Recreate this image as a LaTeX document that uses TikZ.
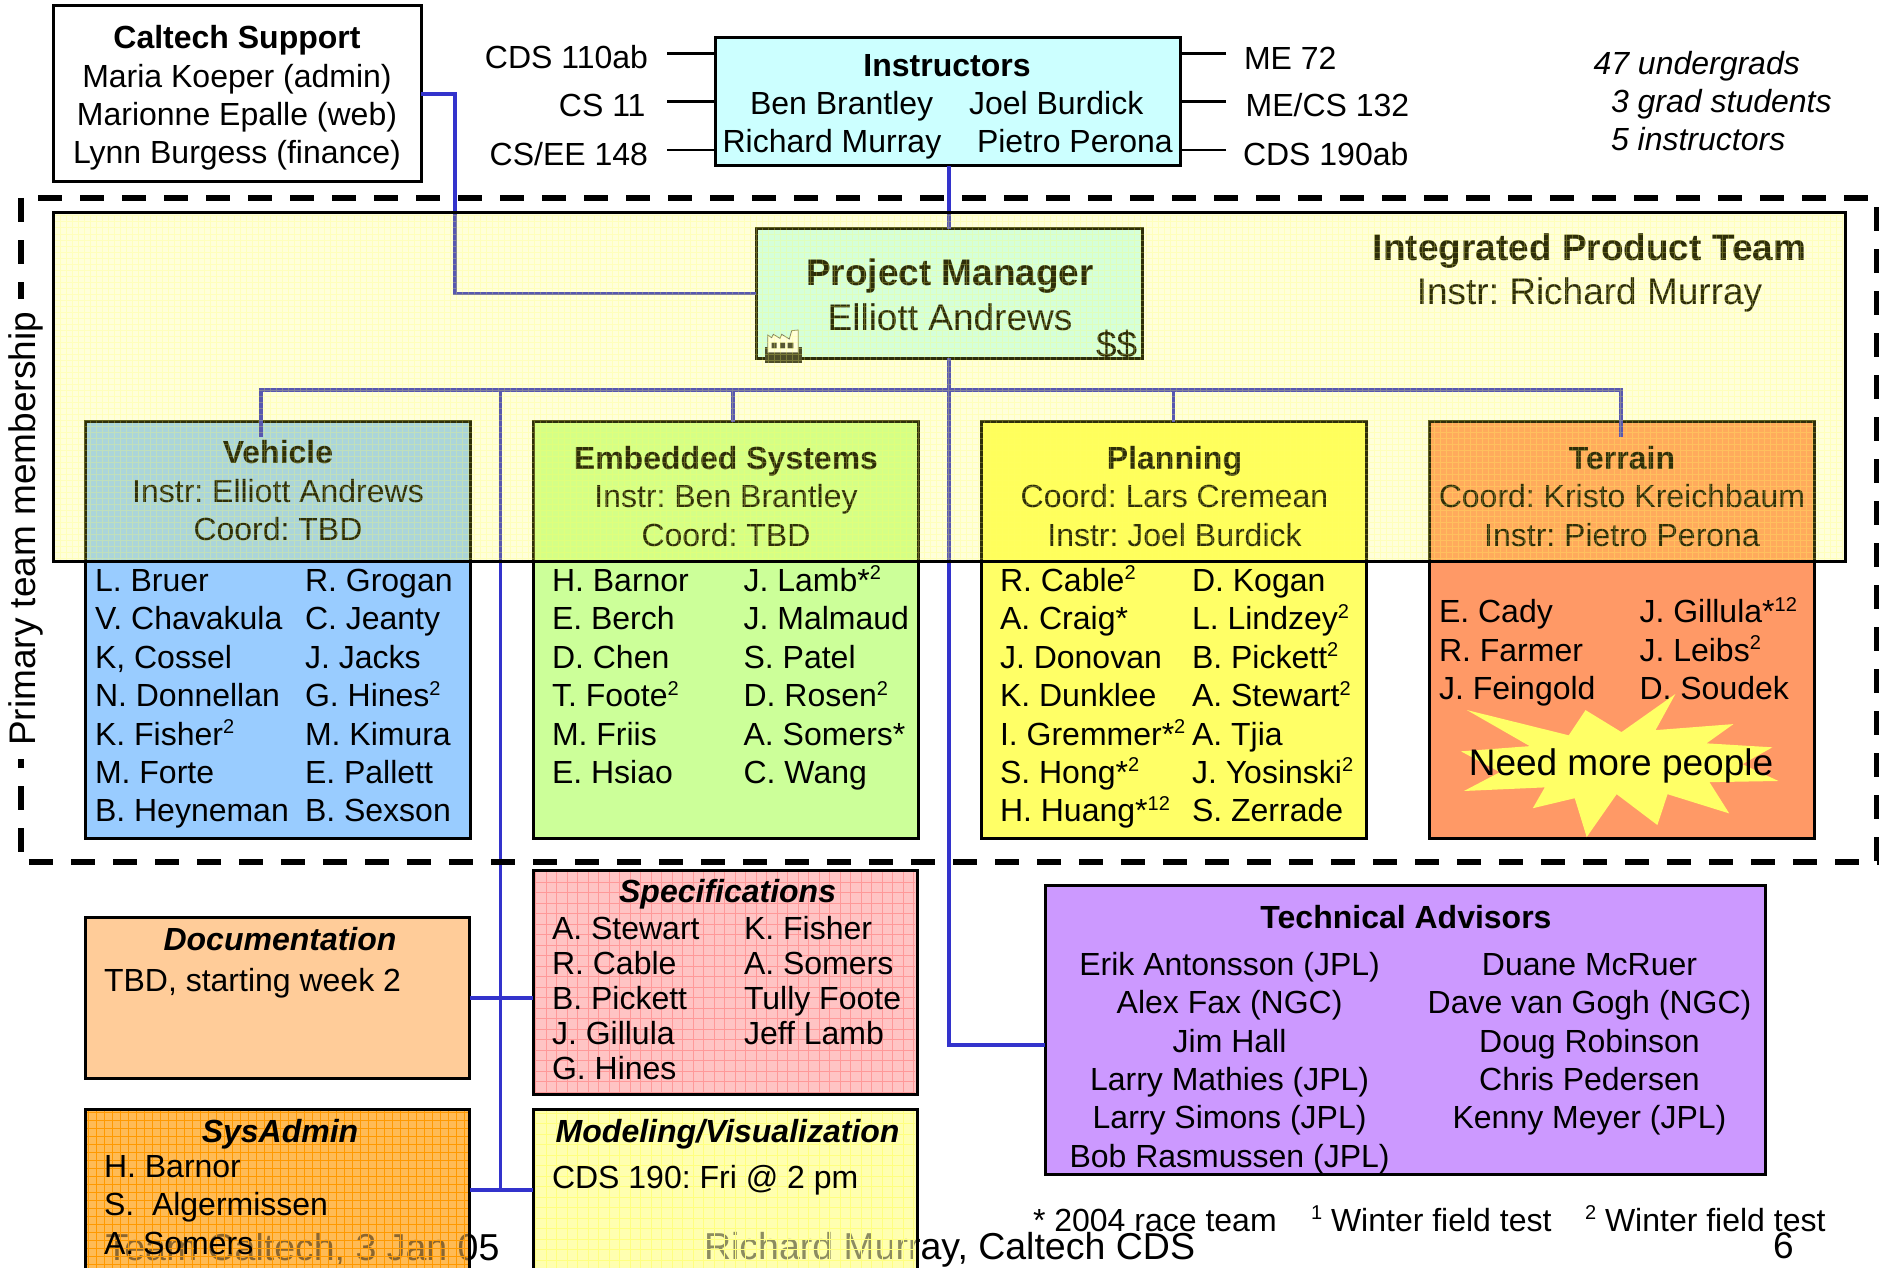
\documentclass[tikz,border=0pt]{standalone}
\usepackage{fontspec}
\setmainfont{Liberation Sans}
\AtBeginDocument{\frenchspacing}
\definecolor{linkblue}{HTML}{3333CC}
\definecolor{vehc}{HTML}{99CCFF}
\definecolor{embc}{HTML}{CCFF99}
\definecolor{plac}{HTML}{FFFF66}
\definecolor{veilc}{HTML}{FFFF33}
\definecolor{terc}{HTML}{FF9966}
\definecolor{docc}{HTML}{FFCC99}
\definecolor{cyanc}{HTML}{CCFFFF}
\definecolor{purc}{HTML}{CC99FF}
\definecolor{pinkc}{HTML}{FFC4C4}
\definecolor{pinkl}{HTML}{FF9999}
\definecolor{sysc}{HTML}{FFBB55}
\definecolor{sysl}{HTML}{FF9900}
\definecolor{modc}{HTML}{FFFFB0}
\definecolor{modl}{HTML}{FFFF80}
\newcommand\fs{\rule{0pt}{26pt}}
\newcommand\su[1]{\raisebox{.36em}{\fontsize{20}{20}\selectfont #1}}
\newcommand\bx[6]{%
  \pgfmathsetmacro\bw{#4-#2}\pgfmathsetmacro\bh{#5-#3}%
  \node[boxst,#6,minimum width=\bw pt,minimum height=\bh pt,anchor=north west] (#1) at (#2,#3) {};}
\newcommand\tx[5]{\node[txst,#4] (#1) at (#2,#3-25.2) {\fs #5};}
\tikzset{
  boxst/.style={draw=black,line width=3pt,inner sep=0pt,outer sep=0pt,rectangle},
  txst/.style={inner sep=0pt,outer sep=0pt,align=left,anchor=north west,font=\fontsize{32}{38.4}\selectfont},
  cn/.style={align=center,anchor=north,xshift=1pt},
  rt/.style={align=right,anchor=north east,xshift=1pt},
  big/.style={font=\fontsize{37}{44}\selectfont},
  foot/.style={font=\fontsize{37.5}{44}\selectfont},
  spec/.style={font=\fontsize{32}{34.8}\selectfont},
  link/.style={draw=linkblue,line width=3.5pt,line join=miter},
  stub/.style={draw=black,line width=2.5pt},
  dashline/.style={draw=black,line width=6pt,dash pattern=on 24pt off 18pt}
}
\begin{document}
\begin{tikzpicture}[x=1pt,y=-1pt]
\path[use as bounding box] (0,0) rectangle (1879,1268);
\clip (0,0) rectangle (1879,1268);
\fill[white] (0,0) rectangle (1879,1268);

% ---- boxes inside the dashed area (veiled at top by the IPT panel)
\bx{veh}{85}{421.6}{470.6}{838}{fill=vehc}
\bx{emb}{533}{421.6}{918.5}{838}{fill=embc}
\bx{pla}{981}{421.6}{1366}{838}{fill=plac}
\bx{ter}{1429}{421.6}{1814}{838}{fill=terc}
\bx{pm}{756}{229}{1142}{358}{fill=cyanc}
\bx{cal}{53}{6}{421}{182}{fill=white}
\bx{ins}{715}{37.5}{1180}{166}{fill=cyanc}
\bx{doc}{85}{917}{469.5}{1078}{fill=docc}
\bx{spc}{533}{870}{917}{1094}{fill=pinkc}
\draw[pinkl,line width=1pt,step=10.5pt] (535,1092) grid (915,872);
\bx{tech}{1045}{885}{1765}{1174}{fill=purc}

% ---- boxes that veil the footer
\fill[sysc] (85,1109) rectangle (469.5,1280);
\fill[modc] (533,1109) rectangle (917,1280);

% ---- footer (under the veils)
\tx{foot1}{498.5}{1259}{rt,foot}{Team Caltech, 3 Jan 05}
\tx{foot2}{704}{1258}{foot}{Richard Murray, Caltech CDS}
\tx{foot3}{1782.5}{1258}{cn,big}{6}

\fill[sysc,opacity=.55] (85,1109) rectangle (469.5,1280);
\fill[modc,opacity=.55] (533,1109) rectangle (917,1280);
\draw[sysl,line width=1pt,step=8pt] (87,1280) grid (468,1111);
\draw[modl,line width=1pt,step=10.5pt] (535,1280) grid (915,1111);
\bx{sys}{85}{1109}{469.5}{1290}{}
\bx{mod}{533}{1109}{917}{1290}{}

% ---- connectors
\coordinate (calbend) at (455,94);
\coordinate (techjoin) at (1045,1045);
\coordinate (busl) at (261,390);
\coordinate (busr) at (1621,390);
\coordinate (vdrop) at (261,437);
\coordinate (edrop) at (733,421.6);
\coordinate (pdrop) at (1173.5,421.6);
\coordinate (tdrop) at (1621,437);
\coordinate (trunk) at (500.6,390);
\coordinate (rung1l) at (469.5,998);
\coordinate (rung1r) at (533,998);
\coordinate (rung2l) at (469.5,1190);
\coordinate (rung2r) at (533,1190);
\draw[link] (cal.east) -- (calbend) |- (pm.west);
\draw[link] (ins.south -| pm.north) -- (pm.north);
\draw[link] (pm.south) -- (pm.south |- techjoin) -- (techjoin);
\draw[link] (vdrop) -- (busl) -- (busr) -- (tdrop);
\draw[link] (edrop) -- (edrop |- busl);
\draw[link] (pdrop) -- (pdrop |- busl);
\draw[link] (trunk) -- (trunk |- rung2l);
\draw[link] (rung1l) -- (rung1r);
\draw[link] (rung2l) -- (rung2r);

% ---- instructor stubs
\coordinate (sl1) at (667,53.5); \coordinate (sl2) at (667,101.6); \coordinate (sl3) at (667,150);
\coordinate (sr1) at (1226,53.5); \coordinate (sr2) at (1226,101.6); \coordinate (sr3) at (1226,150);
\draw[stub] (sl1) -- (sl1 -| ins.west);
\draw[stub] (sl2) -- (sl2 -| ins.west);
\draw[stub] (sl3) -- (sl3 -| ins.west);
\draw[stub] (sr1) -- (sr1 -| ins.east);
\draw[stub] (sr2) -- (sr2 -| ins.east);
\draw[stub] (sr3) -- (sr3 -| ins.east);

% ---- factory icon
\begin{scope}[shift={(740,300)},x=.3333pt,y=-.3333pt]
  \fill[black!85] (75,140) rectangle (185,190);
  \filldraw[fill=white,draw=black!60,line width=.8pt] (83,158) -- (83,105) -- (95,113) -- (100,103) -- (120,115) -- (125,103) -- (148,117) -- (155,92) -- (175,90) -- (175,158) -- cycle;
  \fill[black!80] (95,128) rectangle (110,145) (120,128) rectangle (135,145) (143,128) rectangle (160,145);
\end{scope}

% ---- text under the panel veil
\tx{pmt}{949}{283.7}{cn,big}{\textbf{Project Manager}}
\tx{pmn}{949}{328.6}{cn,big}{Elliott Andrews}
\tx{pmd}{1096}{355}{big}{\$\$}
\tx{iptt}{1588.5}{259}{cn,big}{\textbf{Integrated Product Team}}
\tx{ipti}{1588.5}{303}{cn,big}{Instr: Richard Murray}
\tx{veht}{277}{463}{cn}{\textbf{Vehicle}\\Instr: Elliott Andrews\\Coord: TBD}
\tx{embt}{725}{468.6}{cn}{\textbf{Embedded Systems}\\Instr: Ben Brantley\\Coord: TBD}
\tx{plat}{1173.5}{468.6}{cn}{\textbf{Planning}\\Coord: Lars Cremean\\Instr: Joel Burdick}
\tx{tert}{1621}{468.6}{cn}{\textbf{Terrain}\\Coord: Kristo Kreichbaum\\Instr: Pietro Perona}

% ---- panel veil
\fill[veilc,opacity=.18] (53,213) rectangle (1845,561.6);
\draw[plac,opacity=.25,line width=1pt,step=6pt] (55,560) grid (1843,215);
\bx{ipt}{53}{213}{1845}{561.6}{}

% ---- dashed membership frame
\coordinate (dt1) at (38,198); \coordinate (dt2) at (1879,198);
\coordinate (db1) at (29,862); \coordinate (db2) at (1879,862);
\coordinate (dl1) at (21,198); \coordinate (dl2) at (21,852);
\coordinate (dr1) at (1877,207); \coordinate (dr2) at (1877,862);
\draw[dashline] (dt1) -- (dt2);
\draw[dashline] (db1) -- (db2);
\draw[dashline] (dl1) -- (dl2);
\draw[dashline] (dr1) -- (dr2);
\node[rotate=90,anchor=base west,inner ysep=2pt,inner xsep=13pt,fill=white,font=\fontsize{37}{44}\selectfont] (prim) at (35,759) {Primary team membership};

% ---- burst
\begin{scope}[shift={(940,640)},x=.5988pt,y=-.4005pt]
\fill[plac] (880,175) -- (1050,238) -- (1078,175) -- (1138,230) -- (1228,135) -- (1195,225) -- (1325,210) -- (1280,258) -- (1390,268) -- (1340,310) -- (1400,352) -- (1285,355) -- (1318,433) -- (1215,385) -- (1198,462) -- (1130,385) -- (1080,492) -- (1060,395) -- (990,420) -- (1010,368) -- (875,377) -- (935,330) -- (870,278) -- (985,265) -- cycle;
\end{scope}
\tx{need}{1620}{774}{cn,big}{Need more people}

% ---- remaining texts
\tx{calt}{236}{48}{cn}{\textbf{Caltech Support}\\Maria Koeper (admin)\\Marionne Epalle (web)\\Lynn Burgess (finance)}
\tx{inst}{946}{75.5}{cn}{\textbf{Instructors}}
\tx{ina}{750}{113.5}{}{Ben Brantley}
\tx{inb}{722.6}{152}{}{Richard Murray}
\tx{inc}{969}{113.5}{}{Joel Burdick}
\tx{ind}{977}{152}{}{Pietro Perona}
\tx{c1}{647}{68}{rt}{CDS 110ab}
\tx{c2}{644.5}{116}{rt}{CS 11}
\tx{c3}{647}{164.5}{rt}{CS/EE 148}
\tx{c4}{1244}{68.6}{}{ME 72}
\tx{c5}{1245.6}{116}{}{ME/CS 132}
\tx{c6}{1243}{164.5}{}{CDS 190ab}
\tx{cnt1}{1593.5}{73.5}{}{\textit{47 undergrads}}
\tx{cnt2}{1611}{112}{}{\textit{3 grad students}}
\tx{cnt3}{1611}{150}{}{\textit{5 instructors}}

\tx{vm1}{95}{590.6}{}{L. Bruer\\V. Chavakula\\K, Cossel\\N. Donnellan\\K. Fisher\su{2}\\M. Forte\\B. Heyneman}
\tx{vm2}{305}{590.6}{}{R. Grogan\\C. Jeanty\\J. Jacks\\G. Hines\su{2}\\M. Kimura\\E. Pallett\\B. Sexson}
\tx{em1}{552}{590.6}{}{H. Barnor\\E. Berch\\D. Chen\\T. Foote\su{2}\\M. Friis\\E. Hsiao}
\tx{em2}{743.6}{590.6}{}{J. Lamb*\su{2}\\J. Malmaud\\S. Patel\\D. Rosen\su{2}\\A. Somers*\\C. Wang}
\tx{pm1}{1000}{590.6}{}{R. Cable\su{2}\\A. Craig*\\J. Donovan\\K. Dunklee\\I. Gremmer*\su{2}\\S. Hong*\su{2}\\H. Huang*\su{12}}
\tx{pm2}{1192}{590.6}{}{D. Kogan\\L. Lindzey\su{2}\\B. Pickett\su{2}\\A. Stewart\su{2}\\A. Tjia\\J. Yosinski\su{2}\\S. Zerrade}
\tx{tm1}{1439}{622}{}{E. Cady\\R. Farmer\\J. Feingold}
\tx{tm2}{1639.5}{622}{}{J. Gillula*\su{12}\\J. Leibs\su{2}\\D. Soudek}

\tx{doct}{279}{950}{cn}{\textbf{\textit{Documentation}}}
\tx{docb}{104}{990.7}{}{TBD, starting week 2}
\tx{spct}{726.6}{901.7}{cn}{\textbf{\textit{Specifications}}}
\tx{sp1}{552}{939}{spec}{A. Stewart\\R. Cable\\B. Pickett\\J. Gillula\\G. Hines}
\tx{sp2}{744}{939}{spec}{K. Fisher\\A. Somers\\Tully Foote\\Jeff Lamb}
\tx{syst}{279}{1141.7}{cn}{\textbf{\textit{SysAdmin}}}
\tx{sysb}{104}{1176.7}{}{H. Barnor\\S.~~Algermissen\\A. Somers}
\tx{modt}{726.6}{1141.7}{cn}{\textbf{\textit{Modeling/Visualization}}}
\tx{modb}{552}{1188}{}{CDS 190: Fri @ 2 pm}
\tx{techt}{1405}{927.5}{cn}{\textbf{Technical Advisors}}
\tx{te1}{1228.6}{974.4}{cn}{Erik Antonsson (JPL)\\Alex Fax (NGC)\\Jim Hall\\Larry Mathies (JPL)\\Larry Simons (JPL)\\Bob Rasmussen (JPL)}
\tx{te2}{1588.5}{974.4}{cn}{Duane McRuer\\Dave van Gogh (NGC)\\Doug Robinson\\Chris Pedersen\\Kenny Meyer (JPL)}
\tx{fn1}{1033}{1230.7}{}{* 2004 race team}
\tx{fn2}{1311}{1230.7}{}{\su{1} Winter field test}
\tx{fn3}{1585}{1230.7}{}{\su{2} Winter field test}
\end{tikzpicture}
\end{document}
